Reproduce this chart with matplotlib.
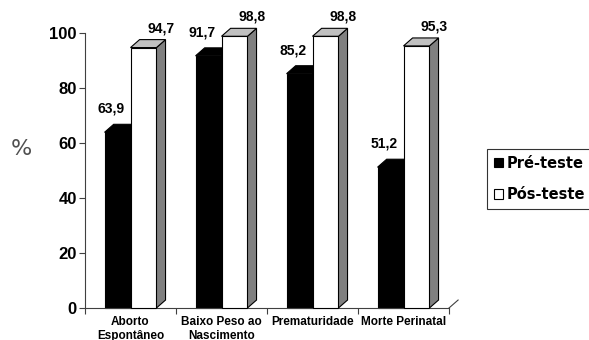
import matplotlib
matplotlib.use("Agg")
import matplotlib.pyplot as plt
from matplotlib.patches import Polygon, Patch

categories = ["Aborto\nEspontâneo", "Baixo Peso ao\nNascimento", "Prematuridade", "Morte Perinatal"]
pre_teste = [63.9, 91.7, 85.2, 51.2]
pos_teste = [94.7, 98.8, 98.8, 95.3]
pre_labels = ["63,9", "91,7", "85,2", "51,2"]
pos_labels = ["94,7", "98,8", "98,8", "95,3"]
series_names = ["Pré-teste", "Pós-teste"]

BAR_W = 0.285
DX = 0.1    # depth in x (data units)
DY = 2.9    # depth in y (data units)

fig = plt.figure(figsize=(5.89, 3.40), dpi=100)
ax = fig.add_axes([85 / 589, 32 / 340, 364 / 589, 275 / 340])


def draw_bar(x0, h, face, top, side, z):
    right = Polygon([(x0 + BAR_W, 0), (x0 + BAR_W + DX, DY), (x0 + BAR_W + DX, h + DY),
                     (x0 + BAR_W, h)],
                    closed=True, facecolor=side, edgecolor="black", lw=0.8,
                    clip_on=False, zorder=z)
    cap = Polygon([(x0, h), (x0 + DX, h + DY), (x0 + BAR_W + DX, h + DY), (x0 + BAR_W, h)],
                  closed=True, facecolor=top, edgecolor="black", lw=0.8,
                  clip_on=False, zorder=z)
    front = Polygon([(x0, 0), (x0 + BAR_W, 0), (x0 + BAR_W, h), (x0, h)],
                    closed=True, facecolor=face, edgecolor="black", lw=0.8,
                    clip_on=False, zorder=z + 0.1)
    ax.add_patch(right)
    ax.add_patch(cap)
    ax.add_patch(front)


for i in range(len(categories)):
    # black bar sits behind the white one
    draw_bar(i - BAR_W, pre_teste[i], "black", "black", "black", 2)
    draw_bar(i, pos_teste[i], "white", "#c0c0c0", "#808080", 3)

    ax.annotate(pre_labels[i], (i - BAR_W / 2 - 0.07, pre_teste[i]),
                xytext=(0, 17), textcoords="offset points", ha="center", va="center",
                fontsize=10, fontweight="bold", family="Liberation Sans")
    ax.annotate(pos_labels[i], (i + BAR_W / 2 + 0.19, pos_teste[i]),
                xytext=(0, 14), textcoords="offset points", ha="center", va="center",
                fontsize=10, fontweight="bold", family="Liberation Sans")

ax.set_xlim(-0.5, len(categories) - 0.5)
ax.set_ylim(0, 100)

# floor depth line at the right end
ax.plot([len(categories) - 0.5, len(categories) - 0.5 + DX], [0, DY],
        color="#404040", lw=0.8, clip_on=False)

for s in ["top", "right"]:
    ax.spines[s].set_visible(False)
for s in ["left", "bottom"]:
    ax.spines[s].set_color("#404040")
    ax.spines[s].set_linewidth(0.8)

ax.set_yticks([0, 20, 40, 60, 80, 100])
ax.tick_params(axis="y", length=4, width=0.8, color="#404040", pad=2)
for lab in ax.get_yticklabels():
    lab.set_fontsize(12)
    lab.set_fontweight("bold")
    lab.set_family("Liberation Sans")

ax.set_xticks([i - 0.5 for i in range(len(categories) + 1)])
ax.set_xticklabels([])
ax.tick_params(axis="x", which="major", length=4, width=0.8, color="#404040")
ax.set_xticks(range(len(categories)), minor=True)
ax.set_xticklabels(categories, minor=True, fontsize=8.5, fontweight="bold",
                   family="Liberation Sans", linespacing=1.2)
ax.tick_params(axis="x", which="minor", length=0, pad=6)

fig.text(21 / 589, 1 - 149 / 340, "%", fontsize=16, color="#505050",
         ha="center", va="center", family="DejaVu Sans")

handles = [Patch(facecolor="black", edgecolor="black", lw=0.8),
           Patch(facecolor="white", edgecolor="black", lw=0.8)]
leg = fig.legend(handles, series_names, loc="upper left",
                 bbox_to_anchor=(487 / 589, 1 - 149 / 340),
                 frameon=True, fancybox=False, edgecolor="black",
                 handlelength=0.65, handleheight=0.65, handletextpad=0.25,
                 borderpad=0.45, labelspacing=1.15, borderaxespad=0,
                 prop={"family": "DejaVu Sans", "weight": "bold", "size": 10.5})
leg.get_frame().set_linewidth(0.8)

fig.savefig("out.png", dpi=100)
